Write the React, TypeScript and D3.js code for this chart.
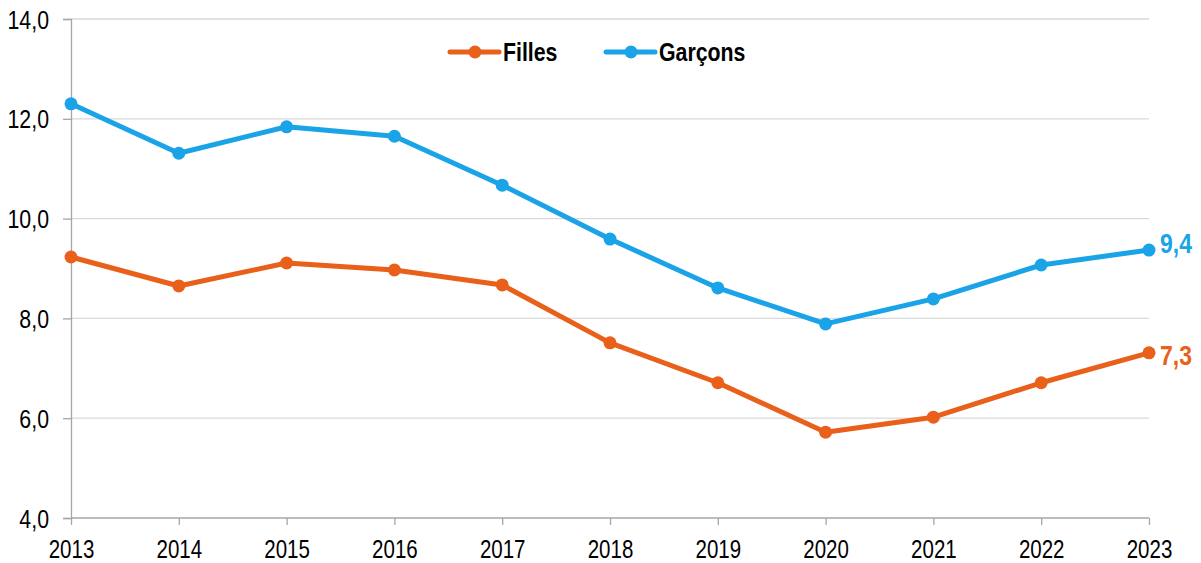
import React, { useEffect, useRef } from 'react';
import * as d3 from 'd3';

const years = [2013, 2014, 2015, 2016, 2017, 2018, 2019, 2020, 2021, 2022, 2023];
const filles = [9.23, 8.65, 9.11, 8.97, 8.67, 7.51, 6.71, 5.72, 6.02, 6.71, 7.31];
const garcons = [12.3, 11.31, 11.84, 11.65, 10.67, 9.59, 8.61, 7.89, 8.39, 9.07, 9.37];
const yTicks = [4, 6, 8, 10, 12, 14];

const FONT = "'Liberation Sans', Arial, sans-serif";
const NARROW = 0.82; // emulate Arial Narrow
const ORANGE = '#e8601a';
const BLUE = '#1ba3e8';

const fmt = (v: number) => d3.format('.1f')(v).replace('.', ',');

const App: React.FC = () => {
  const svgRef = useRef<SVGSVGElement>(null);

  useEffect(() => {
    if (!svgRef.current) return;
    const svg = d3.select(svgRef.current);
    svg.selectAll('*').remove();

    const x = d3.scalePoint<number>().domain(years).range([71, 1149]);
    const y = d3.scaleLinear().domain([4, 14]).range([518, 19]);

    // gridlines
    svg.append('g')
      .selectAll('line')
      .data(yTicks.slice(1))
      .enter()
      .append('line')
      .attr('x1', 71)
      .attr('x2', 1149)
      .attr('y1', d => y(d))
      .attr('y2', d => y(d))
      .attr('stroke', '#d9d9d9')
      .attr('stroke-width', 1.3);

    // y axis
    const yAxis = svg.append('g')
      .attr('transform', 'translate(71,0)')
      .call(d3.axisLeft(y).tickValues(yTicks).tickSize(8).tickPadding(14)
        .tickFormat(d => fmt(d as number)));
    yAxis.select('.domain').attr('stroke', '#a6a6a6').attr('stroke-width', 1.3);
    yAxis.selectAll('.tick line').attr('stroke', '#a6a6a6').attr('stroke-width', 1.3);
    yAxis.selectAll('.tick text')
      .attr('font-family', FONT)
      .attr('font-size', 26)
      .attr('fill', '#000')
      .attr('x', -22 / NARROW)
      .attr('dy', '0.35em')
      .attr('transform', `scale(${NARROW},1)`);

    // x axis
    const xAxis = svg.append('g')
      .attr('transform', `translate(0,${y(4)})`)
      .call(d3.axisBottom(x).tickSize(7).tickPadding(15).tickFormat(d => String(d)));
    xAxis.select('.domain').attr('stroke', '#a6a6a6').attr('stroke-width', 1.3)
      .attr('d', 'M71,0H1149');
    xAxis.selectAll('.tick line').attr('stroke', '#a6a6a6').attr('stroke-width', 1.3);
    xAxis.selectAll('.tick text')
      .attr('font-family', FONT)
      .attr('font-size', 25)
      .attr('fill', '#000')
      .attr('transform', `scale(${NARROW},1)`);

    const line = d3.line<number>()
      .x((_, i) => x(years[i]) as number)
      .y(d => y(d));

    const series = [
      { name: 'Filles', values: filles, color: ORANGE, labelDy: 2 },
      { name: 'Garçons', values: garcons, color: BLUE, labelDy: -7 },
    ];

    series.forEach(s => {
      svg.append('path')
        .datum(s.values)
        .attr('fill', 'none')
        .attr('stroke', s.color)
        .attr('stroke-width', 5)
        .attr('stroke-linejoin', 'round')
        .attr('d', line);

      svg.append('g')
        .selectAll('circle')
        .data(s.values)
        .enter()
        .append('circle')
        .attr('cx', (_, i) => x(years[i]) as number)
        .attr('cy', d => y(d))
        .attr('r', 6.5)
        .attr('fill', s.color);

      const last = s.values[s.values.length - 1];
      const lx = (x(years[years.length - 1]) as number) + 11;
      svg.append('text')
        .attr('x', lx / NARROW)
        .attr('y', y(last) + s.labelDy)
        .attr('dy', '0.35em')
        .attr('transform', `scale(${NARROW},1)`)
        .attr('font-family', FONT)
        .attr('font-size', 28)
        .attr('font-weight', 'bold')
        .attr('fill', s.color)
        .text(fmt(last));
    });

    // legend
    const legendX = [450, 606];
    series.forEach((s, i) => {
      const g = svg.append('g').attr('transform', `translate(${legendX[i]},52)`);
      g.append('line')
        .attr('x1', 0).attr('x2', 49)
        .attr('stroke', s.color)
        .attr('stroke-width', 5)
        .attr('stroke-linecap', 'round');
      g.append('circle').attr('cx', 25).attr('r', 6.5).attr('fill', s.color);
      g.append('text')
        .attr('x', 53 / NARROW)
        .attr('dy', '0.35em')
        .attr('transform', `scale(${NARROW},1)`)
        .attr('font-family', FONT)
        .attr('font-size', 26)
        .attr('font-weight', 'bold')
        .attr('fill', '#000')
        .text(s.name);
    });
  }, []);

  return (
    <svg
      ref={svgRef}
      width={1201}
      height={563}
      style={{ position: 'absolute', top: 0, left: 0, background: '#fff' }}
    />
  );
};

export default App;
